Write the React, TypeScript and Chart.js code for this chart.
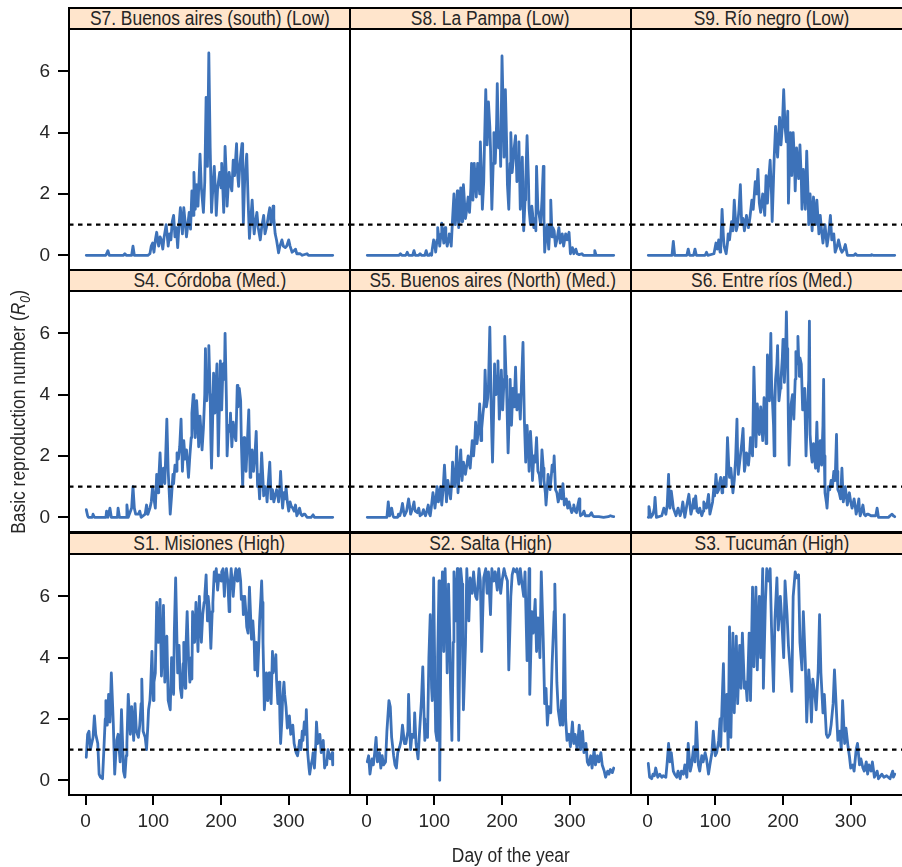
import { useEffect, useRef } from "react";
import { Chart, registerables } from "chart.js";

Chart.register(...registerables);

// ---------------- data (day of year, R0) ----------------
const S7_BUENOS_AIRES_SOUTH: [number, number][] = [
  [1,0],[30,0],[33,0.15],[35,0],[56,0],[58,0.05],[60,0],[68,0],[70,0.3],[72,0],[92,0],[95,0.05],[97,0.3],[99,0.4],[101,0.1],[103,0.5],[105,0.75],[107,0.4],[108,0.3],[110,0.6],[112,0.5],[114,0.2],[116,0.6],[119,1.0],[122,0.3],[124,0.7],[126,0.5],[128,1.1],[130,1.3],[132,0.6],[134,0.9],[136,0.25],[138,1.0],[140,1.55],[142,1.0],[143,0.7],[145,1.55],[147,1.1],[149,0.6],[151,1.0],[153,1.4],[155,0.85],[157,2.1],[159,1.3],[160,2.7],[162,1.5],[164,2.3],[166,1.6],[169,3.3],[171,2.2],[174,1.4],[176,2.4],[178,5.15],[180,2.9],[182,6.6],[184,3.5],[186,1.4],[188,2.2],[190,2.9],[192,2.0],[193,1.3],[195,2.2],[198,2.7],[200,2.2],[201,3.0],[203,2.0],[204,1.4],[206,3.55],[208,2.5],[209,1.6],[211,2.4],[212,2.7],[214,2.3],[216,2.1],[218,3.1],[220,2.6],[223,3.64],[224,2.8],[226,2.25],[228,3.0],[231,3.64],[232,2.2],[233,1.05],[235,2.5],[238,3.3],[240,1.8],[242,0.55],[244,1.2],[246,1.8],[248,1.0],[249,0.7],[251,1.1],[253,1.4],[255,0.9],[258,0.5],[260,0.9],[263,1.3],[265,0.7],[268,1.0],[270,1.3],[272,1.55],[274,1.0],[277,1.6],[278,1.2],[280,0.7],[282,0.5],[285,0.08],[287,0.3],[290,0.5],[292,0.3],[295,0.25],[297,0.3],[300,0.5],[302,0.3],[305,0.1],[308,0.15],[310,0.2],[312,0.05],[317,0.05],[320,0],[327,0.05],[329,0],[365,0]
];

const S8_LA_PAMPA: [number, number][] = [
  [1,0],[48,0],[50,0.05],[52,0],[58,0],[60,0.1],[62,0],[68,0],[70,0.15],[72,0],[77,0],[79,0.05],[81,0],[86,0],[88,0.15],[90,0],[93,0],[94,0.05],[96,0],[97,0.2],[99,0.5],[101,0.3],[102,0.1],[104,0.5],[105,0.9],[107,0.5],[108,0.3],[110,0.7],[111,1.05],[113,0.6],[114,0.4],[116,0.9],[117,0.6],[119,0.3],[121,0.5],[122,0.7],[124,0.5],[125,0.3],[127,1.2],[129,2.0],[130,1.4],[131,1.0],[133,1.6],[134,2.1],[135,1.5],[136,0.9],[138,1.6],[139,2.2],[140,1.5],[141,1.1],[142,1.8],[143,2.3],[145,1.6],[146,1.2],[148,1.5],[150,1.9],[152,1.4],[154,2.2],[155,3.0],[157,1.8],[159,3.0],[161,2.3],[162,1.9],[164,3.0],[166,2.3],[167,2.0],[168,3.7],[170,2.4],[171,1.5],[173,2.4],[174,3.5],[176,5.4],[178,3.6],[180,5.0],[182,4.2],[183,3.5],[185,1.5],[187,3.0],[188,4.0],[190,3.0],[192,4.3],[193,5.6],[195,3.5],[197,4.0],[198,2.9],[200,6.5],[202,4.5],[203,3.2],[205,5.4],[207,3.5],[208,2.3],[210,1.5],[212,3.0],[213,4.0],[215,2.7],[217,3.2],[218,3.5],[220,3.9],[222,2.4],[224,3.2],[225,3.7],[227,1.5],[229,2.5],[230,3.2],[232,0.8],[234,1.8],[235,2.4],[237,3.9],[239,2.5],[240,1.5],[242,1.0],[244,1.6],[245,1.4],[247,0.9],[249,1.2],[250,0.8],[251,2.9],[253,1.5],[255,1.3],[257,1.0],[259,1.8],[261,2.9],[262,1.2],[263,0.1],[265,0.7],[267,1.0],[268,0.5],[269,0.2],[271,1.0],[272,1.8],[274,0.6],[275,0.9],[277,0.8],[279,0.3],[281,0.5],[284,0.9],[286,0.4],[289,0.7],[291,0.3],[294,0.7],[296,0.5],[299,0.75],[301,0.05],[303,0.2],[304,0.25],[306,0.05],[309,0.2],[311,0.05],[314,0.02],[318,0.05],[320,0],[336,0],[337,0.15],[339,0],[365,0]
];

const S9_RIO_NEGRO: [number, number][] = [
  [1,0],[36,0],[38,0.45],[40,0],[58,0],[60,0.2],[62,0],[68,0],[70,0.2],[72,0],[85,0],[87,0.1],[89,0],[98,0.05],[101,0.4],[103,0.2],[105,0.5],[107,0.1],[108,0.3],[110,1.5],[112,0.6],[113,0.3],[116,0.05],[118,0.4],[119,0.7],[121,0.5],[124,1.1],[126,0.8],[128,1.8],[130,1.1],[131,0.8],[133,1.0],[135,1.5],[137,2.3],[139,1.0],[141,1.2],[143,0.8],[145,1.1],[146,1.3],[149,0.9],[151,1.2],[154,1.8],[156,1.5],[159,2.4],[161,2.0],[163,2.8],[165,1.7],[167,1.4],[170,2.0],[173,1.3],[175,2.6],[177,1.7],[179,2.5],[181,3.1],[183,2.0],[184,1.1],[186,2.5],[187,3.2],[189,4.2],[191,3.5],[192,3.2],[195,4.5],[197,3.6],[199,4.2],[201,5.4],[203,4.2],[205,3.7],[207,4.7],[208,1.7],[210,3.2],[211,4.0],[213,2.6],[215,4.0],[217,3.0],[218,2.1],[220,3.5],[223,2.5],[225,3.6],[227,2.5],[228,1.5],[230,2.8],[233,1.5],[235,3.4],[237,2.0],[238,1.0],[240,2.0],[243,0.8],[245,1.9],[248,1.0],[250,1.8],[253,0.7],[255,1.3],[257,0.8],[259,0.4],[262,1.0],[265,0.3],[267,0.6],[270,1.3],[272,0.5],[275,0.7],[277,0.1],[280,0.3],[282,0.5],[285,0.2],[287,0.1],[290,0.2],[292,0.35],[295,0],[305,0],[307,0.05],[309,0],[330,0],[331,0.02],[333,0],[365,0]
];

const S4_CORDOBA: [number, number][] = [
  [1,0.25],[3,0.05],[4,0],[10,0],[11,0.1],[13,0],[30,0],[31,0.2],[33,0],[36,0.3],[38,0],[47,0],[48,0.3],[50,0],[60,0],[61,0.4],[63,0],[68,0.3],[70,1.0],[72,0.3],[74,0.1],[78,0.1],[80,0.2],[82,0],[88,0.1],[90,0.4],[92,0.1],[95,0.3],[97,0.5],[99,1.0],[101,0.6],[103,0.3],[105,1.4],[107,0.8],[108,1.2],[110,2.1],[112,1.0],[113,1.2],[115,1.6],[117,1.1],[118,1.8],[120,3.2],[122,1.5],[124,0.6],[125,0.1],[127,0.7],[129,1.4],[130,1.1],[132,1.7],[134,1.5],[135,2.1],[137,1.9],[139,2.3],[141,3.2],[143,1.5],[145,2.5],[147,1.9],[149,2.2],[151,1.6],[152,1.3],[154,2.0],[156,2.6],[157,3.4],[159,4.0],[160,3.3],[162,2.6],[164,3.8],[166,3.0],[167,2.3],[169,3.3],[171,2.6],[172,2.2],[174,2.9],[176,4.0],[177,5.5],[179,3.8],[181,4.5],[182,5.6],[184,4.0],[185,2.5],[186,1.6],[188,3.5],[189,4.7],[191,3.4],[192,4.0],[194,5.0],[195,3.5],[196,2.0],[198,4.0],[199,5.1],[201,3.5],[203,5.0],[205,4.5],[206,6.0],[208,3.8],[209,2.0],[211,3.0],[213,2.8],[214,3.4],[216,2.3],[218,3.1],[220,2.7],[222,2.5],[224,4.3],[225,3.6],[227,4.2],[229,3.8],[230,2.5],[232,1.0],[234,2.6],[235,2.0],[237,1.5],[239,2.5],[241,3.5],[243,1.3],[244,1.8],[246,2.2],[248,1.5],[250,2.0],[252,2.8],[254,1.0],[255,1.4],[257,0.6],[259,1.5],[260,2.1],[262,1.2],[263,0.7],[265,1.0],[267,0.8],[268,0.5],[270,1.2],[272,1.8],[274,0.6],[276,0.9],[278,0.5],[280,0.7],[282,0.9],[284,0.7],[285,0.5],[287,1.0],[288,1.5],[290,0.6],[291,0.3],[293,0.8],[295,0.6],[296,1.0],[298,0.5],[300,0.2],[302,0.5],[304,0.35],[306,0.3],[308,0.2],[310,0.4],[312,0.05],[314,0.15],[316,0.3],[318,0.1],[320,0.05],[322,0.1],[324,0.1],[327,0],[333,0],[336,0.08],[338,0],[365,0]
];

const S5_BUENOS_AIRES_NORTH: [number, number][] = [
  [1,0],[30,0],[32,0.5],[34,0.05],[36,0.2],[37,0.3],[39,0.05],[40,0],[46,0],[47,0.1],[49,0.05],[51,0.2],[53,0.45],[55,0.15],[56,0.05],[59,0.2],[62,0.6],[64,0.3],[65,0.1],[68,0.3],[70,0.5],[71,0.3],[72,0.2],[75,0.15],[77,0.3],[79,0.05],[82,0.1],[84,0.25],[87,0.05],[89,0.2],[91,0.4],[93,0.1],[94,0.05],[96,0.4],[98,0.8],[100,0.5],[101,0.3],[103,0.7],[104,1.0],[106,0.5],[108,0.8],[109,1.0],[111,0.4],[113,0.9],[115,1.7],[117,0.9],[118,0.5],[120,1.2],[122,0.9],[124,0.6],[126,1.2],[127,1.8],[129,1.3],[130,1.0],[132,1.6],[133,2.3],[135,0.8],[137,1.5],[139,2.2],[141,1.2],[143,1.8],[146,1.4],[148,1.7],[150,2.0],[152,1.7],[153,1.6],[155,2.2],[156,2.5],[158,2.0],[160,2.6],[161,3.1],[163,2.4],[165,2.8],[167,3.7],[169,2.5],[170,2.9],[172,3.4],[174,3.8],[175,4.8],[177,3.6],[179,3.9],[180,4.3],[182,6.2],[184,3.6],[185,2.6],[186,1.8],[188,3.8],[189,5.0],[191,4.0],[193,4.6],[194,5.1],[196,3.2],[198,4.0],[199,4.8],[201,3.5],[203,4.5],[204,5.9],[206,4.6],[207,4.0],[209,2.1],[211,3.5],[212,4.5],[214,3.0],[216,4.2],[218,3.6],[220,4.9],[222,3.5],[224,3.8],[225,4.0],[227,3.2],[229,4.5],[231,5.7],[233,3.2],[235,1.8],[237,3.0],[239,2.2],[240,1.5],[242,2.8],[244,2.0],[245,1.2],[247,2.0],[249,1.8],[251,2.6],[253,1.5],[255,1.4],[257,1.0],[259,2.2],[261,1.6],[262,1.2],[264,0.8],[265,0.4],[267,1.0],[268,1.4],[270,1.1],[271,0.9],[273,1.4],[274,1.7],[276,1.5],[277,2.0],[279,0.9],[281,0.8],[283,0.5],[285,0.7],[286,0.9],[288,0.6],[290,1.1],[292,0.4],[294,0.5],[295,0.6],[297,0.3],[299,0.5],[301,0.3],[303,0.15],[305,0.3],[306,0.4],[308,0.2],[310,0.15],[312,0.4],[314,0.6],[315,0.2],[316,0.05],[319,0.1],[321,0.2],[323,0.05],[326,0.05],[329,0.05],[332,0.15],[334,0.05],[336,0.02],[343,0.02],[350,0],[357,0.02],[360,0.05],[363,0.03],[365,0.02]
];

const S6_ENTRE_RIOS: [number, number][] = [
  [1,0],[2,0.35],[4,0.1],[5,0],[8,0.1],[10,0.3],[11,0.65],[13,0],[21,0.05],[24,0.3],[27,0.1],[29,0.4],[31,1.4],[32,0.6],[33,0.3],[35,0.85],[37,0.5],[38,0.3],[42,0.05],[45,0.3],[48,0.05],[50,0.2],[52,0.5],[55,0],[58,0.4],[61,0.75],[63,0.3],[64,0.1],[66,0.3],[68,0.6],[69,0.3],[71,0.7],[73,0.2],[75,0.15],[77,0.3],[80,0.05],[82,0.2],[83,0.5],[85,0.4],[87,0.3],[90,0.75],[92,0.1],[94,0.3],[96,0.5],[98,1.0],[99,0.7],[101,1.4],[103,0.8],[105,0.9],[106,1.1],[108,1.3],[110,0.8],[111,0.9],[113,1.3],[115,1.2],[116,1.0],[118,2.6],[120,1.6],[121,1.3],[123,1.6],[125,1.1],[126,0.8],[128,1.2],[130,1.9],[132,3.2],[133,2.0],[134,1.4],[136,1.8],[137,2.0],[139,2.4],[141,2.9],[143,1.5],[145,1.8],[146,2.1],[148,2.0],[149,1.7],[151,2.2],[152,2.6],[154,2.2],[155,2.0],[157,4.9],[159,3.2],[160,2.3],[162,3.7],[164,3.0],[165,2.7],[167,3.6],[169,2.9],[170,2.5],[172,3.9],[174,3.0],[175,2.4],[176,3.5],[177,5.3],[179,4.5],[180,3.8],[182,6.0],[183,4.5],[184,4.0],[186,3.0],[187,2.0],[188,3.6],[189,4.5],[191,5.0],[192,5.6],[193,4.5],[194,3.8],[196,4.2],[197,4.5],[199,5.2],[200,5.8],[201,5.0],[202,4.4],[204,5.5],[205,6.7],[206,5.5],[207,4.9],[208,3.0],[209,1.7],[211,3.0],[212,3.7],[214,4.0],[216,3.2],[218,4.5],[219,5.4],[221,5.0],[222,5.9],[224,4.6],[225,5.2],[227,5.0],[229,3.5],[231,3.8],[232,4.2],[233,3.0],[234,2.0],[236,3.5],[238,4.5],[239,6.4],[240,2.7],[242,2.0],[243,1.8],[245,2.4],[247,1.9],[248,1.6],[250,3.1],[252,1.5],[254,2.1],[255,2.5],[257,1.7],[259,3.0],[260,4.5],[261,2.0],[262,0.8],[264,0.5],[265,0.3],[267,1.0],[269,0.9],[271,1.2],[273,1.0],[275,1.5],[277,1.2],[279,2.7],[280,1.5],[281,0.9],[283,0.8],[285,0.6],[287,1.6],[289,0.5],[291,0.8],[292,1.0],[294,0.6],[295,0.4],[297,0.7],[298,0.8],[300,0.5],[302,0.3],[304,0.5],[305,0.6],[307,0.3],[308,0.1],[310,0.3],[312,0.6],[313,0.2],[314,0.05],[316,0.2],[318,0.4],[320,0.1],[322,0.05],[324,0.1],[326,0.1],[330,0.05],[334,0.05],[337,0.05],[339,0.3],[341,0],[356,0],[358,0.05],[361,0.1],[363,0.05],[365,0.02]
];

const S1_MISIONES: [number, number][] = [
  [1,0.75],[3,1.5],[5,1.6],[7,1.0],[9,1.2],[11,1.4],[13,2.1],[15,1.5],[18,1.2],[20,0.2],[22,0.1],[25,0.05],[27,1.0],[29,2.0],[30,2.6],[32,1.8],[34,2.8],[36,1.9],[38,3.5],[40,2.4],[41,1.8],[43,0.2],[45,1.0],[46,1.3],[48,1.5],[50,0.9],[51,0.6],[53,2.3],[55,1.0],[56,0.3],[58,0.1],[60,0.8],[61,1.2],[63,2.8],[65,2.0],[66,1.5],[68,2.4],[70,1.7],[71,1.3],[73,2.5],[75,1.6],[78,1.4],[80,1.8],[82,2.5],[83,3.3],[85,1.6],[88,1.4],[90,1.0],[92,1.8],[93,2.3],[95,2.6],[96,3.0],[98,4.2],[100,2.6],[101,3.2],[103,3.5],[105,5.8],[107,4.5],[108,5.0],[110,5.9],[112,3.4],[114,4.5],[115,5.7],[117,3.2],[118,4.0],[120,4.7],[122,2.6],[125,2.3],[127,4.0],[128,3.5],[130,2.8],[131,4.8],[133,6.6],[135,4.5],[136,3.5],[138,4.4],[140,3.0],[142,2.7],[144,3.8],[145,4.5],[147,3.0],[148,4.2],[150,5.5],[152,4.0],[154,3.2],[156,4.0],[157,3.3],[158,5.5],[160,4.8],[161,4.5],[163,5.8],[165,4.8],[166,4.2],[168,6.0],[170,5.0],[171,4.5],[173,5.4],[175,5.8],[176,6.0],[178,6.7],[180,5.2],[181,6.0],[183,5.5],[185,4.3],[187,5.5],[188,5.8],[190,6.8],[191,6.5],[193,6.9],[195,6.2],[197,6.7],[198,6.6],[200,6.5],[201,6.8],[203,6.9],[205,6.0],[206,6.5],[208,6.9],[210,6.5],[212,5.5],[213,6.2],[215,6.9],[217,6.3],[218,6.0],[220,6.6],[222,6.9],[224,6.5],[225,6.8],[227,6.9],[229,6.5],[230,5.9],[232,6.0],[233,5.4],[235,6.0],[237,5.4],[238,5.0],[240,4.8],[242,6.3],[244,5.2],[245,4.6],[247,5.2],[249,4.5],[250,3.6],[252,4.5],[254,3.4],[256,4.5],[257,5.2],[259,6.0],[260,6.5],[261,5.8],[262,4.5],[263,3.5],[264,2.3],[266,3.0],[267,3.5],[269,2.6],[271,3.5],[272,3.0],[274,2.5],[276,4.2],[277,3.5],[279,3.7],[281,4.1],[282,3.3],[284,2.5],[286,3.2],[287,2.0],[288,1.2],[290,2.0],[291,2.7],[293,3.2],[294,2.8],[296,2.4],[298,1.7],[300,2.0],[301,2.1],[303,1.5],[305,1.6],[306,1.8],[308,1.2],[310,1.0],[311,0.9],[313,0.8],[315,1.1],[316,1.3],[318,1.0],[320,1.6],[321,1.3],[323,1.9],[325,1.5],[326,2.3],[328,0.9],[330,0.4],[331,0.2],[333,0.5],[335,0.7],[336,0.9],[338,0.4],[340,1.2],[341,1.9],[343,1.2],[345,1.3],[346,1.5],[348,0.9],[350,1.1],[351,1.3],[353,0.4],[355,0.6],[356,0.5],[358,1.0],[360,0.8],[361,0.7],[363,0.8],[364,0.9],[365,0.5]
];

const S2_SALTA: [number, number][] = [
  [1,0.6],[3,0.8],[5,0.2],[8,0.7],[10,0.5],[12,0.9],[14,1.4],[16,0.6],[19,0.9],[21,0.4],[23,0.8],[25,0.5],[28,0.6],[30,1.6],[33,2.6],[35,2.4],[37,1.4],[40,0.8],[42,0.5],[44,0.4],[46,0.9],[49,1.1],[51,1.3],[53,1.8],[56,1.2],[58,1.2],[61,1.6],[62,2.8],[64,1.5],[65,1.0],[67,1.5],[70,1.4],[71,2.2],[73,1.2],[76,0.7],[78,1.5],[81,2.6],[83,3.7],[85,2.0],[86,1.3],[88,1.8],[90,1.4],[92,4.0],[94,5.4],[96,3.0],[97,2.6],[99,6.6],[101,3.0],[102,1.6],[104,1.3],[105,4.0],[107,6.5],[108,0.0],[110,5.2],[112,6.8],[114,4.2],[116,6.9],[118,5.0],[119,3.5],[121,6.4],[123,4.5],[124,3.0],[126,1.3],[128,4.5],[129,6.8],[131,5.2],[134,6.9],[135,3.0],[136,1.3],[138,5.0],[139,6.9],[141,6.4],[142,4.0],[143,2.3],[146,4.4],[148,6.9],[151,5.2],[153,6.6],[156,6.1],[158,6.8],[161,6.0],[163,5.9],[166,6.9],[168,6.5],[170,4.2],[173,6.6],[176,6.9],[178,6.1],[180,6.8],[183,5.4],[185,6.9],[188,6.5],[190,6.8],[193,6.2],[195,6.9],[198,6.1],[200,6.5],[203,6.9],[205,6.7],[208,6.5],[210,3.6],[213,6.0],[215,6.7],[217,6.9],[220,6.8],[222,6.9],[225,6.4],[227,6.9],[229,6.5],[232,6.0],[234,6.8],[237,3.9],[240,6.9],[241,2.8],[244,5.5],[246,4.8],[249,5.9],[251,4.2],[253,5.3],[256,4.0],[258,6.8],[261,4.5],[263,2.5],[265,3.0],[267,1.8],[269,2.4],[272,2.2],[274,3.8],[277,5.5],[278,6.4],[281,3.2],[283,2.3],[286,1.8],[288,2.6],[290,1.8],[292,5.4],[294,2.0],[296,1.3],[299,1.5],[301,1.1],[304,1.9],[306,1.2],[308,1.5],[311,1.0],[314,1.8],[316,1.0],[319,1.6],[321,0.9],[324,1.2],[326,0.6],[328,0.5],[331,0.8],[333,0.4],[336,1.0],[338,0.5],[341,0.8],[343,0.6],[346,0.9],[348,0.5],[351,0.3],[353,0.1],[356,0.3],[358,0.2],[360,0.35],[363,0.25],[365,0.4]
];

const S3_TUCUMAN: [number, number][] = [
  [1,0.55],[3,0.1],[6,0.05],[8,0.2],[10,0.15],[12,0.4],[15,0.1],[18,0.2],[21,0.1],[23,0.15],[27,0.1],[29,0.6],[31,1.2],[33,0.6],[35,0.9],[38,0.3],[40,0.2],[43,0.1],[45,0.3],[48,0.05],[50,0.3],[53,0.2],[55,0.5],[58,0.1],[60,1.2],[63,0.3],[65,0.5],[68,1.1],[70,0.6],[72,1.9],[75,0.5],[77,0.3],[80,0.8],[82,0.6],[85,0.9],[87,0.7],[90,0.2],[92,0.5],[95,0.9],[97,1.6],[100,0.8],[102,0.9],[105,1.3],[107,2.0],[108,1.1],[110,2.5],[112,3.8],[114,1.6],[117,2.8],[119,1.0],[121,5.0],[123,1.4],[126,4.8],[128,2.2],[131,4.7],[133,2.5],[136,4.4],[138,3.0],[140,4.8],[143,3.0],[145,3.2],[147,2.6],[150,4.8],[152,2.6],[155,6.3],[157,3.7],[160,6.3],[162,3.6],[165,6.0],[167,4.0],[170,6.9],[171,3.0],[174,5.8],[176,6.9],[179,6.5],[181,6.9],[183,5.0],[186,2.9],[188,5.2],[191,6.6],[193,4.9],[196,6.0],[198,5.3],[201,4.0],[203,6.5],[206,5.4],[208,4.4],[211,3.5],[213,2.9],[215,6.0],[218,6.8],[220,6.6],[223,6.7],[225,4.5],[228,3.6],[230,5.5],[233,3.8],[235,1.9],[238,3.6],[240,3.0],[242,1.9],[244,3.3],[247,2.8],[249,2.3],[252,3.6],[254,5.4],[256,3.5],[259,2.2],[261,2.8],[264,1.5],[266,1.4],[269,1.5],[271,1.8],[274,2.5],[276,3.6],[279,2.2],[281,1.3],[284,1.6],[286,1.0],[288,2.6],[291,1.2],[293,1.7],[296,1.1],[298,0.8],[300,0.4],[303,0.5],[305,0.3],[308,1.0],[310,1.2],[313,0.5],[315,0.7],[318,0.4],[320,0.3],[323,0.6],[325,0.2],[327,0.5],[330,0.3],[332,0.6],[335,0.1],[339,0.3],[341,0.05],[346,0.2],[349,0.1],[353,0.15],[358,0.05],[362,0.3],[363,0.1],[365,0.2]
];

const PANEL_TITLES: string[] = [
  "S7. Buenos aires (south) (Low)", "S8. La Pampa (Low)", "S9. Río negro (Low)",
  "S4. Córdoba (Med.)", "S5. Buenos aires (North) (Med.)", "S6. Entre ríos (Med.)",
  "S1. Misiones (High)", "S2. Salta (High)", "S3. Tucumán (High)",
];
const PANEL_SERIES: [number, number][][] = [
  S7_BUENOS_AIRES_SOUTH, S8_LA_PAMPA, S9_RIO_NEGRO,
  S4_CORDOBA, S5_BUENOS_AIRES_NORTH, S6_ENTRE_RIOS,
  S1_MISIONES, S2_SALTA, S3_TUCUMAN,
];
const X_TICKS = [0, 100, 200, 300];
const Y_TICKS = [0, 2, 4, 6];
const THRESHOLD = 1;
const X_LIMITS = [-24.5, 390.5];
const Y_LIMITS = [-0.48, 7.38];
const X_TITLE = "Day of the year";

// ---------------- layout & style ----------------
const COL_LEFT = [69, 350, 631];
const ROW_TOP = [29, 291, 554];
const PLOT_W = 281;
const PLOT_H = 241;
const STRIP_H = 22;
const PAD = 3;
const XAXIS_H = 60;
const FONT = "'Liberation Sans', Arial, sans-serif";
const NARROW = 0.87;
const TEXT_COLOR = "#262626";
const LINE_COLOR = "#3d72b9";
const STRIP_BG = "#ffe5cc";

const boxPlugin = {
  id: "panelBox",
  afterDraw(chart: any) {
    const { ctx, chartArea } = chart;
    ctx.save();
    ctx.strokeStyle = "#000";
    ctx.lineWidth = 2;
    ctx.strokeRect(chartArea.left, chartArea.top, chartArea.right - chartArea.left, chartArea.bottom - chartArea.top);
    ctx.restore();
  },
};

function Panel({ index }: { index: number }) {
  const ref = useRef<HTMLCanvasElement>(null);
  const r = Math.floor(index / 3);
  const c = index % 3;
  const showY = c === 0;
  const showX = r === 2;
  const left = showY ? 0 : COL_LEFT[c] - PAD;
  const top = ROW_TOP[r] - PAD;
  const width = (showY ? COL_LEFT[0] : PAD) + PLOT_W + PAD;
  const height = PAD + PLOT_H + (showX ? XAXIS_H : PAD);

  useEffect(() => {
    const series = PANEL_SERIES[index];
    const xScale: any = {
      type: "linear",
      min: X_LIMITS[0],
      max: X_LIMITS[1],
      display: showX,
      afterBuildTicks: (s: any) => {
        s.ticks = X_TICKS.map((v) => ({ value: v }));
      },
      border: { display: false },
      grid: { display: true, drawOnChartArea: false, drawTicks: true, tickLength: 10, color: "#000", lineWidth: 2 },
      ticks: { font: { family: FONT, size: 19 }, color: TEXT_COLOR, padding: 5, maxRotation: 0, autoSkip: false },
    };
    if (showX)
      xScale.afterFit = (s: any) => {
        s.height = XAXIS_H;
        s.paddingLeft = 0;
        s.paddingRight = 0;
      };
    const yScale: any = {
      type: "linear",
      min: Y_LIMITS[0],
      max: Y_LIMITS[1],
      display: showY,
      afterBuildTicks: (s: any) => {
        s.ticks = Y_TICKS.map((v) => ({ value: v }));
      },
      border: { display: false },
      grid: { display: true, drawOnChartArea: false, drawTicks: true, tickLength: 11, color: "#000", lineWidth: 2 },
      ticks: { font: { family: FONT, size: 19 }, color: TEXT_COLOR, padding: 8, autoSkip: false },
    };
    if (showY)
      yScale.afterFit = (s: any) => {
        s.width = COL_LEFT[0];
        s.paddingTop = 0;
        s.paddingBottom = 0;
      };

    const chart = new Chart(ref.current as HTMLCanvasElement, {
      type: "line",
      data: {
        datasets: [
          {
            data: [
              { x: X_LIMITS[0], y: THRESHOLD },
              { x: X_LIMITS[1], y: THRESHOLD },
            ],
            borderColor: "#000",
            borderWidth: 2.4,
            borderDash: [4.5, 4.5],
            pointRadius: 0,
            order: 0,
          },
          {
            data: series.map(([d, v]) => ({ x: d, y: v })),
            borderColor: LINE_COLOR,
            borderWidth: 2.8,
            pointRadius: 0,
            tension: 0,
            borderJoinStyle: "round",
            borderCapStyle: "round",
            order: 1,
          },
        ],
      } as any,
      options: {
        animation: false,
        responsive: false,
        maintainAspectRatio: false,
        events: [],
        layout: {
          padding: { left: showY ? 0 : PAD, right: PAD, top: PAD, bottom: showX ? 0 : PAD },
        },
        plugins: {
          legend: { display: false },
          tooltip: { enabled: false },
          title: { display: false },
        },
        scales: { x: xScale, y: yScale },
      } as any,
      plugins: [boxPlugin],
    });
    return () => chart.destroy();
  }, [index]);

  return (
    <div style={{ position: "absolute", left, top, width, height }}>
      <canvas ref={ref} width={width} height={height} style={{ width, height, display: "block" }} />
    </div>
  );
}

function Narrow({ children }: { children: any }) {
  return (
    <span style={{ display: "inline-block", transform: `scaleX(${NARROW})`, transformOrigin: "center", whiteSpace: "nowrap" }}>
      {children}
    </span>
  );
}

function Strip({ index }: { index: number }) {
  const r = Math.floor(index / 3);
  const c = index % 3;
  return (
    <div
      style={{
        position: "absolute",
        left: COL_LEFT[c] - 1,
        top: ROW_TOP[r] - STRIP_H,
        width: PLOT_W + 2,
        height: STRIP_H + 1,
        boxSizing: "border-box",
        border: "2px solid #000",
        background: STRIP_BG,
        color: TEXT_COLOR,
        fontFamily: FONT,
        fontSize: 20,
        lineHeight: `${STRIP_H - 3}px`,
        textAlign: "center",
        whiteSpace: "nowrap",
        overflow: "hidden",
      }}
    >
      <Narrow>{PANEL_TITLES[index]}</Narrow>
    </div>
  );
}

export default function App() {
  const idx = [0, 1, 2, 3, 4, 5, 6, 7, 8];
  return (
    <div
      style={{
        position: "absolute",
        left: 0,
        top: 0,
        width: 902,
        height: 867,
        overflow: "hidden",
        background: "#fff",
        fontFamily: FONT,
        color: TEXT_COLOR,
      }}
    >
      {idx.map((i) => (
        <Panel key={"p" + i} index={i} />
      ))}
      {idx.map((i) => (
        <Strip key={"s" + i} index={i} />
      ))}
      <div
        style={{
          position: "absolute",
          left: 18 - 160,
          top: 412 - 13,
          width: 320,
          height: 26,
          lineHeight: "26px",
          fontSize: 20,
          textAlign: "center",
          transform: "rotate(-90deg)",
          whiteSpace: "nowrap",
        }}
      >
        <Narrow>
          Basic reproduction number (<i>R</i>
          <sub style={{ fontSize: 14, fontStyle: "italic" }}>0</sub>)
        </Narrow>
      </div>
      <div
        style={{
          position: "absolute",
          left: 511 - 120,
          top: 842,
          width: 240,
          height: 26,
          lineHeight: "26px",
          fontSize: 20,
          textAlign: "center",
          whiteSpace: "nowrap",
        }}
      >
        <Narrow>{X_TITLE}</Narrow>
      </div>
    </div>
  );
}
